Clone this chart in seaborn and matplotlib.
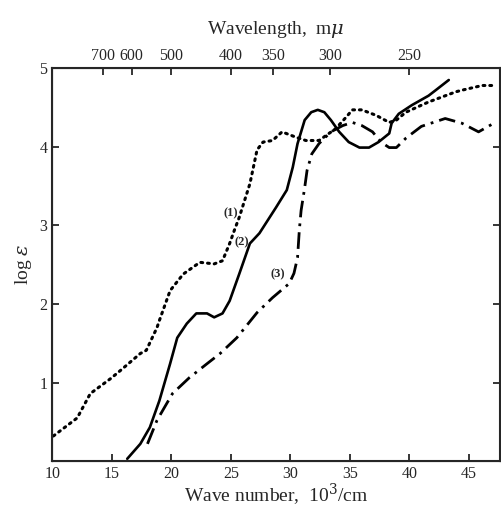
import seaborn as sns
import matplotlib.pyplot as plt

# curve (1), dotted
wn1 = [10.1, 12.1, 13.2, 14.9, 15.7, 17.4, 17.9, 18.8, 19.0, 19.9, 21.0, 22.4, 23.6,
       24.3, 24.9, 25.3, 25.7, 26.6, 27.2, 27.7, 28.5, 29.3, 30.5, 31.3, 32.4, 33.8,
       34.7, 35.2, 36.0, 37.2, 38.3, 38.9, 39.7, 41.6, 43.9, 44.4, 46.1, 47.3]
le1 = [0.32, 0.55, 0.86, 1.05, 1.15, 1.37, 1.41, 1.70, 1.79, 2.17, 2.38, 2.53, 2.51,
       2.55, 2.77, 2.94, 3.10, 3.53, 3.96, 4.06, 4.08, 4.19, 4.12, 4.08, 4.08, 4.23,
       4.38, 4.47, 4.47, 4.40, 4.31, 4.34, 4.44, 4.57, 4.70, 4.72, 4.78, 4.78]

# curve (2), solid
wn2 = [16.3, 17.4, 18.2, 19.0, 19.9, 20.5, 21.3, 22.1, 23.0, 23.6, 24.3, 24.9, 25.7,
       26.6, 27.4, 28.8, 29.7, 30.2, 30.6, 31.2, 31.75, 32.3, 32.85, 33.4, 34.1, 34.9,
       35.8, 36.6, 37.4, 38.3, 38.5, 39.1, 40.2, 41.6, 42.2, 43.3]
le2 = [0.03, 0.22, 0.43, 0.77, 1.24, 1.57, 1.75, 1.88, 1.88, 1.83, 1.88, 2.04, 2.38,
       2.77, 2.90, 3.23, 3.45, 3.74, 4.04, 4.34, 4.44, 4.47, 4.44, 4.34, 4.19, 4.06,
       3.99, 3.99, 4.06, 4.17, 4.30, 4.42, 4.53, 4.65, 4.72, 4.85]

# curve (3), dash-dot
wn3 = [18.0, 18.8, 20.1, 21.5, 23.0, 24.1, 25.5, 27.2, 28.5, 29.9, 30.3, 30.6, 30.75,
       30.9, 31.2, 31.4, 31.8, 32.4, 33.4, 34.4, 35.2, 36.0, 36.9, 37.6, 38.3, 38.9,
       39.7, 41.0, 43.0, 44.4, 45.8, 47.2]
le3 = [0.22, 0.52, 0.86, 1.06, 1.24, 1.37, 1.57, 1.89, 2.08, 2.26, 2.39, 2.59, 2.94,
       3.19, 3.48, 3.70, 3.91, 4.04, 4.19, 4.27, 4.31, 4.27, 4.19, 4.06, 3.99, 3.99,
       4.11, 4.26, 4.36, 4.30, 4.19, 4.31]

wavelengths = [700, 600, 500, 400, 350, 300, 250]

sns.set_style("ticks")
plt.rcParams['font.family'] = ['Liberation Serif', 'DejaVu Serif']
plt.rcParams['mathtext.fontset'] = 'dejavuserif'

fig = plt.figure(figsize=(5.02, 5.09), dpi=100)
ax = fig.add_axes([0.104, 0.094, 0.892, 0.772])

sns.lineplot(x=wn1, y=le1, ax=ax, color='black', lw=2.2, linestyle=(0, (0.6, 1.6)),
             dash_capstyle='round', sort=False)
sns.lineplot(x=wn2, y=le2, ax=ax, color='black', lw=1.9, sort=False)
sns.lineplot(x=wn3, y=le3, ax=ax, color='black', lw=2.0,
             linestyle=(0, (6, 2.2, 1, 2.2)), sort=False)

ax.text(25.0, 3.15, '(1)', fontsize=9, ha='center', va='center', fontweight='bold')
ax.text(25.9, 2.78, '(2)', fontsize=9, ha='center', va='center', fontweight='bold')
ax.text(28.9, 2.38, '(3)', fontsize=9, ha='center', va='center', fontweight='bold')

ax.set_xlim(10, 47.6)
ax.set_ylim(0, 5)
ax.set_xticks([10, 15, 20, 25, 30, 35, 40, 45])
ax.set_yticks([1, 2, 3, 4, 5])
ax.tick_params(direction='in', length=5, width=1.3, labelsize=11.5,
               top=False, right=True)
ax.set_xlabel('Wave number,  10$^3$/cm', fontsize=14, labelpad=0)
ax.set_ylabel(r'log $\varepsilon$', fontsize=14, labelpad=4)
for s in ax.spines.values():
    s.set_linewidth(1.5)

top = ax.twiny()
top.set_xlim(ax.get_xlim())
top.set_xticks([10000 / w for w in wavelengths])
top.set_xticklabels([str(w) for w in wavelengths])
top.tick_params(direction='in', length=5, width=1.3, labelsize=11.5, pad=3)
top.set_xlabel(r'Wavelength,  m$\mu$', fontsize=14, labelpad=10)

fig.savefig('out.png', dpi=100)
